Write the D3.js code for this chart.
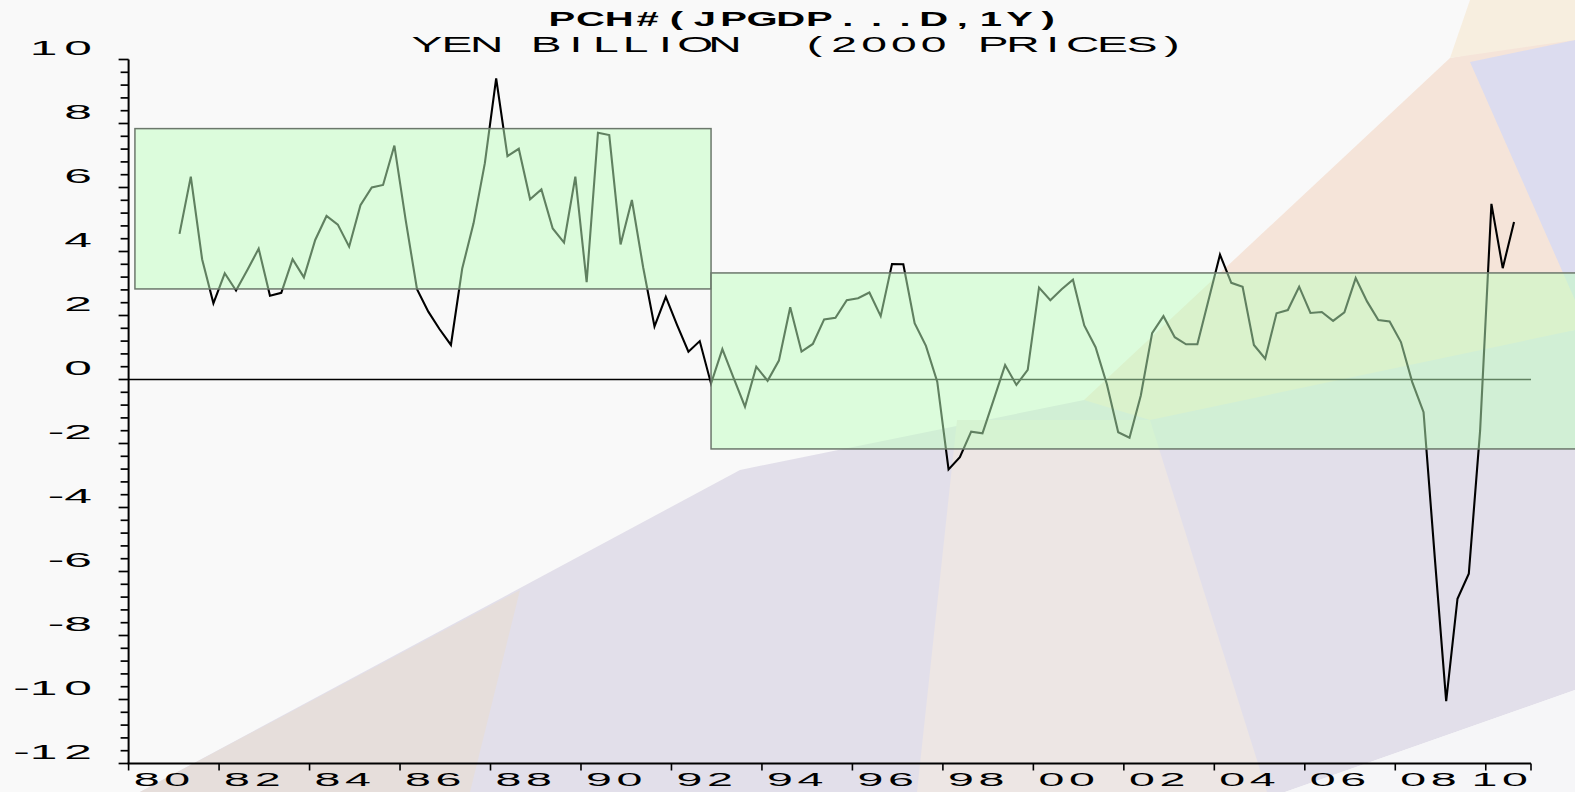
<!DOCTYPE html>
<html>
<head>
<meta charset="utf-8">
<script src="https://cdn.jsdelivr.net/npm/d3@7"></script>
<style>
  html, body { margin: 0; padding: 0; background: #f9f9f9; }
  svg { display: block; }
  text { font-family: "Liberation Sans", Arial, sans-serif; fill: #000; }
</style>
</head>
<body>
<svg id="chart" width="1575" height="792"></svg>
<script>
// ---------------- DATA ----------------
const titleText = "PCH#(JPGDP...D,1Y)";
const subtitleText = "YEN BILLION  (2000 PRICES)";

// quarterly % change on a year earlier, first value = 1981 Q1
const startYear = 1981;
const periodsPerYear = 4;
const values = [
  4.55, 6.34, 3.76, 2.38,   3.32, 2.78, 3.42, 4.09,   2.62, 2.71, 3.76, 3.19,
  4.36, 5.11, 4.84, 4.15,   5.45, 6.00, 6.08, 7.31,   4.98, 2.82, 2.12, 1.57,
  1.08, 3.47, 4.88, 6.76,   9.41, 6.98, 7.21, 5.63,   5.94, 4.72, 4.28, 6.34,
  3.04, 7.71, 7.64, 4.22,   5.61, 3.50, 1.66, 2.58,   1.70, 0.87, 1.20, -0.13,
  0.95, 0.04, -0.85, 0.40,  -0.04, 0.59, 2.26, 0.87,  1.11, 1.88, 1.93, 2.48,
  2.54, 2.72, 1.98, 3.61,   3.60, 1.76, 1.05, -0.07,  -2.81, -2.43, -1.63, -1.68,
  -0.62, 0.45, -0.17, 0.30, 2.87, 2.48, 2.82, 3.12,   1.69, 1.01, -0.15, -1.65,
  -1.82, -0.50, 1.45, 1.98, 1.32, 1.10, 1.10, 2.50,   3.90, 3.02, 2.90, 1.08,
  0.65, 2.07, 2.17, 2.90,   2.08, 2.11, 1.83, 2.10,   3.17, 2.44, 1.86, 1.81,
  1.17, -0.08, -1.02, -5.60, -10.05, -6.85, -6.07, -1.60, 5.49, 3.48, 4.92
];

// shaded bands (years / percent)
const bandStart = [1980.14, 1992.875];
const bandEnd   = [1992.875, 2012.0];
const bandLow   = [2.83, -2.17];
const bandHigh  = [7.84, 3.33];

// axes
const yTickValues = [-12, -10, -8, -6, -4, -2, 0, 2, 4, 6, 8, 10];
const yTickLabels = ["-12", "-10", "-8", "-6", "-4", "-2", "0", "2", "4", "6", "8", "10"];
const xTickYears  = [1980, 1982, 1984, 1986, 1988, 1990, 1992, 1994, 1996, 1998, 2000, 2002, 2004, 2006, 2008, 2010];
const xTickLabels = ["80", "82", "84", "86", "88", "90", "92", "94", "96", "98", "00", "02", "04", "06", "08", "10"];
const xDomain = [1980, 2011];
const yDomain = [-12, 10];

// ---------------- LAYOUT ----------------
const W = 1575, H = 792;
const plotLeft = 128.6, plotRight = 1531, plotTop = 59.5, plotBottom = 763.5;

const svg = d3.select("#chart");
const x = d3.scaleLinear().domain(xDomain).range([plotLeft, plotRight]);
const y = d3.scaleLinear().domain(yDomain).range([plotBottom, plotTop]);

// ---------------- BACKDROP (faded abstract picture) ----------------
const backdrop = [
  { pts: [[0,0],[1575,0],[1575,792],[0,792]], fill: "#f9f9f9" },
  { pts: [[140,792],[740,470],[1084,400],[1575,330],[1575,690],[1285,792]], fill: "#e2dfea" },
  { pts: [[140,792],[520,590],[470,792]], fill: "#e6dedb" },
  { pts: [[957,420],[1150,420],[1267,792],[917,792]], fill: "#ede6e4" },
  { pts: [[1084,400],[1450,58],[1575,35],[1575,330],[1150,420]], fill: "#f5e4d9" },
  { pts: [[1470,62],[1575,40],[1575,300]], fill: "#dcdcef" },
  { pts: [[1470,0],[1575,0],[1575,40],[1450,58]], fill: "#f7eedf" },
  { pts: [[1285,792],[1575,690],[1575,792]], fill: "#f6f6f8" }
];
svg.append("g").selectAll("polygon").data(backdrop).join("polygon")
  .attr("points", d => d.pts.map(p => p.join(",")).join(" "))
  .attr("fill", d => d.fill);

// ---------------- helper: fixed-pitch stretched text ----------------
function cellText(parent, str, centers, baseline, size, sx, weight) {
  parent.append("text")
    .attr("xml:space", "preserve")
    .style("white-space", "pre")
    .attr("transform", `translate(0,${baseline}) scale(${sx},1)`)
    .attr("x", centers.map(c => (c / sx).toFixed(2)).join(" "))
    .attr("y", 0)
    .attr("text-anchor", "middle")
    .attr("font-size", size)
    .attr("font-weight", weight || "normal")
    .text(str);
}
function centeredCells(str, cx, pitch) {
  const n = str.length;
  return d3.range(n).map(i => cx - (n - 1) / 2 * pitch + i * pitch);
}

// ---------------- ZERO LINE + DATA ----------------
svg.append("line")
  .attr("x1", x(xDomain[0])).attr("x2", x(xDomain[1]))
  .attr("y1", y(0)).attr("y2", y(0))
  .attr("stroke", "#000").attr("stroke-width", 1.6);

const line = d3.line()
  .x((d, i) => x(startYear + i / periodsPerYear + 0.5 / periodsPerYear))
  .y(d => y(d));
svg.append("path")
  .datum(values)
  .attr("d", line)
  .attr("fill", "none")
  .attr("stroke", "#000")
  .attr("stroke-width", 2.1)
  .attr("stroke-linejoin", "miter");

// ---------------- BANDS (translucent green) ----------------
svg.append("g").selectAll("rect").data(d3.range(bandStart.length)).join("rect")
  .attr("x", i => x(bandStart[i]))
  .attr("width", i => x(bandEnd[i]) - x(bandStart[i]))
  .attr("y", i => y(bandHigh[i]))
  .attr("height", i => y(bandLow[i]) - y(bandHigh[i]))
  .attr("fill", "rgb(192,255,192)")
  .attr("fill-opacity", 0.5)
  .attr("stroke", "#6c786c")
  .attr("stroke-width", 1.5);

// ---------------- Y AXIS ----------------
const axisG = svg.append("g");
axisG.append("line")
  .attr("x1", plotLeft).attr("x2", plotLeft)
  .attr("y1", y(yDomain[1])).attr("y2", y(yDomain[0]))
  .attr("stroke", "#000").attr("stroke-width", 2);
const minorTicks = d3.range(0, 56).map(k => yDomain[0] + k * 0.4).filter(v => v <= yDomain[1] + 1e-6);
axisG.selectAll("line.ytick").data(minorTicks).join("line")
  .attr("class", "ytick")
  .attr("x1", v => Math.abs(v / 2 - Math.round(v / 2)) < 1e-6 ? plotLeft - 10 : plotLeft - 8)
  .attr("x2", plotLeft)
  .attr("y1", v => y(v)).attr("y2", v => y(v))
  .attr("stroke", "#000").attr("stroke-width", 1.7);

yTickLabels.forEach((lab, i) => {
  const chars = lab.split("");
  const centers = new Array(chars.length);
  let c = 78;
  for (let k = chars.length - 1; k >= 0; k--) {
    centers[k] = c;
    if (k > 0) c -= (chars[k - 1] === "-" ? 22 : 34.5);
  }
  cellText(axisG, lab, centers, y(yTickValues[i]) - 5, 19.5, 2.55, "normal");
});

// ---------------- X AXIS ----------------
axisG.append("line")
  .attr("x1", plotLeft - 1).attr("x2", plotRight)
  .attr("y1", plotBottom).attr("y2", plotBottom)
  .attr("stroke", "#000").attr("stroke-width", 2);
axisG.selectAll("line.xtick").data(xTickYears.concat([xDomain[1]])).join("line")
  .attr("class", "xtick")
  .attr("x1", d => x(d)).attr("x2", d => x(d))
  .attr("y1", plotBottom).attr("y2", plotBottom + 7)
  .attr("stroke", "#000").attr("stroke-width", 1.6);

xTickLabels.forEach((lab, i) => {
  const pitch = 30.5;
  let first = x(xTickYears[i]) + 18;
  const maxLast = plotRight - 16;
  if (first + (lab.length - 1) * pitch > maxLast) first = maxLast - (lab.length - 1) * pitch;
  const centers = d3.range(lab.length).map(k => first + k * pitch);
  cellText(axisG, lab, centers, 785.5, 19, 2.45, "normal");
});

// ---------------- TITLES ----------------
cellText(svg, titleText, centeredCells(titleText, 805, 28.6), 25.5, 20, 2.0, "bold");
cellText(svg, subtitleText, centeredCells(subtitleText, 799.5, 29.8), 52, 21.5, 2.15, "normal");
</script>
</body>
</html>
